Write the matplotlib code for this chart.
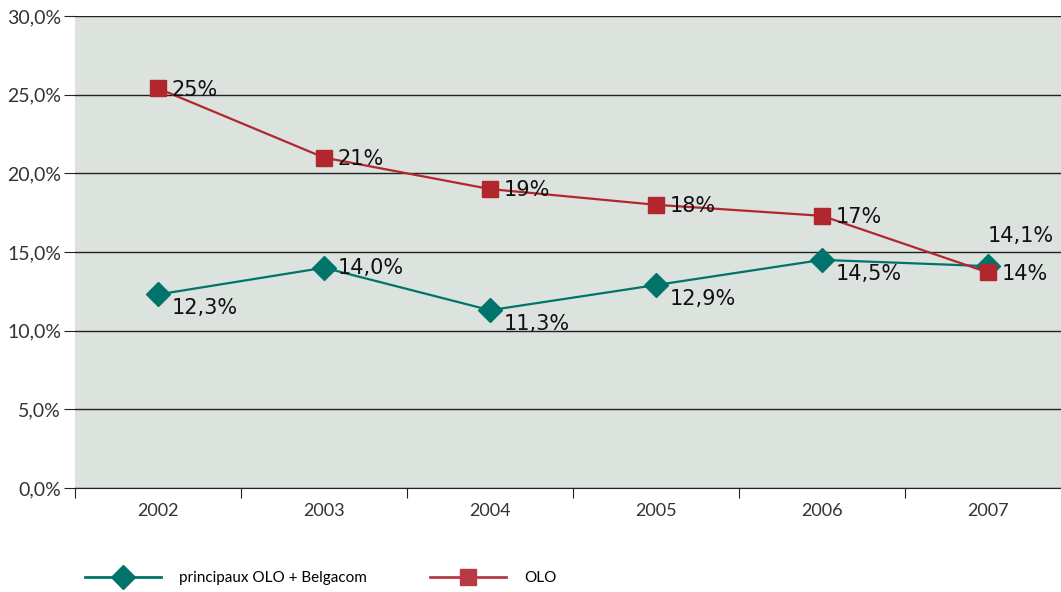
import matplotlib.pyplot as plt
from matplotlib.lines import Line2D

# data
years = ["2002", "2003", "2004", "2005", "2006", "2007"]
olo = [25.4, 21.0, 19.0, 18.0, 17.3, 13.7]
olo_labels = ["25%", "21%", "19%", "18%", "17%", "14%"]
principaux = [12.3, 14.0, 11.3, 12.9, 14.5, 14.1]
principaux_labels = ["12,3%", "14,0%", "11,3%", "12,9%", "14,5%", "14,1%"]
yticks = [0, 5, 10, 15, 20, 25, 30]
ytick_labels = ["0,0%", "5,0%", "10,0%", "15,0%", "20,0%", "25,0%", "30,0%"]

teal = "#00736b"
red = "#b1272d"
bg = "#dce2de"
tick_font = "Lato"

fig = plt.figure(figsize=(10.61, 5.92), dpi=100)
ax = fig.add_axes([75 / 1061, 104 / 592, 996 / 1061, 472 / 592])
ax.set_facecolor(bg)

x = list(range(len(years)))
ax.plot(x, principaux, color=teal, lw=1.6, marker="D", ms=12, mfc=teal, mec=teal, zorder=3)
ax.plot(x, olo, color=red, lw=1.6, marker="s", ms=11.5, mfc=red, mec=red, zorder=4)

# data labels
for i, (v, lab) in enumerate(zip(olo, olo_labels)):
    ax.annotate(lab, (i, v), xytext=(10, -1), textcoords="offset points",
                ha="left", va="center", fontsize=15, color="#111111", zorder=5)

teal_offsets = [(10, -10), (10, 0), (10, -10), (10, -10), (10, -10), (0, 22)]
for i, (v, lab) in enumerate(zip(principaux, principaux_labels)):
    dx, dy = teal_offsets[i]
    ax.annotate(lab, (i, v), xytext=(dx, dy), textcoords="offset points",
                ha="left", va="center", fontsize=15, color="#111111", zorder=5)

ax.set_ylim(0, 30)
ax.set_xlim(-0.5, 5.5)
ax.set_yticks(yticks)
ax.set_yticklabels(ytick_labels, fontsize=14, family=tick_font, color="#333333")
ax.yaxis.grid(True, color="#222222", lw=1)
ax.set_axisbelow(True)

ax.set_xticks([i - 0.5 for i in range(len(years) + 1)])
ax.set_xticklabels([])
ax.set_xticks(x, minor=True)
ax.set_xticklabels(years, minor=True, fontsize=13, family=tick_font, color="#333333")
ax.tick_params(axis="x", which="major", direction="out", length=7, color="#222222")
ax.tick_params(axis="x", which="minor", length=0, pad=11)
ax.tick_params(axis="y", direction="out", length=8, color="#222222", pad=2)

for s in ["left", "right", "top"]:
    ax.spines[s].set_visible(False)
ax.spines["bottom"].set_color("#222222")

handles = [
    Line2D([], [], color=teal, lw=2, marker="D", ms=12, mfc=teal, mec=teal),
    Line2D([], [], color="#b83a45", lw=2, marker="s", ms=11.5, mfc="#b83a45", mec="#b83a45"),
]
fig.legend(handles, ["principaux OLO + Belgacom", "OLO"], loc="center left",
           bbox_to_anchor=(71 / 1061, 1 - 578 / 592), ncol=2, frameon=False,
           handlelength=5, columnspacing=4.1, handletextpad=1.2,
           prop={"family": tick_font, "size": 11})

fig.savefig("out.png", dpi=100)
